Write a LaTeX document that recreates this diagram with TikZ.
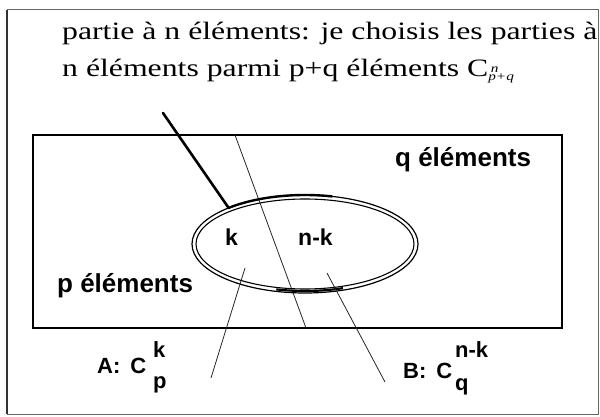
\documentclass[tikz,border=0pt]{standalone}
\usepackage{fontspec}
\setmainfont{Liberation Serif}
\newfontfamily\arialf{Liberation Sans}
\begin{document}
\begin{tikzpicture}[x=1pt,y=-1pt,
  lab/.style={font=\arialf\bfseries\fontsize{26}{28}\selectfont, inner sep=0pt, anchor=base west},
  klab/.style={font=\arialf\bfseries\fontsize{23}{25}\selectfont, inner sep=0pt, anchor=base west},
  alab/.style={font=\arialf\bfseries\fontsize{22}{24}\selectfont, inner sep=0pt, anchor=base west},
  head/.style={font=\fontsize{25}{30}\selectfont, inner sep=0pt, anchor=base west},
  thin/.style={draw=black!85, line width=0.8pt}]
\useasboundingbox (0,0) rectangle (600,417);
% outer frame
\draw[black!60, line width=1pt] (7,10) -- (598,10) -- (598,414) -- (7,414) -- cycle;
\draw[black!80, line width=1.4pt] (7,10) -- (7,414);
% header text
\node[head] (h1) at (62,40) {\scalebox{1.27}[1]{partie à n éléments: je choisis les parties à}};
\node[head] (h2) at (62,77) {\scalebox{1.27}[1]{n éléments parmi p+q éléments C\raisebox{-0.3ex}{\fontsize{12}{12}\selectfont\itshape\makebox[0pt][l]{\raisebox{1.4ex}{\,n}}p+q}}};
% inner rectangle
\draw[black, line width=1.5pt] (33,135) rectangle (562,328);
% crossing thin line
\coordinate (ta) at (235,135);
\coordinate (tb) at (306,328);
\draw[thin] (ta) -- (tb);
% ellipse double ring
\coordinate (ec) at (305,244);
\draw[black, line width=1.2pt] (ec) ellipse [x radius=113, y radius=49];
\draw[black, line width=1.1pt] (ec) ellipse [x radius=109, y radius=45];
\draw[black, line width=2.4pt] ([shift={(227:113 and 49)}]ec) arc[start angle=227, end angle=284, x radius=113, y radius=49];
\draw[black, line width=2.2pt] ([shift={(70:111 and 47)}]ec) arc[start angle=70, end angle=105, x radius=111, y radius=47];
% thick line
\coordinate (sa) at (163,113);
\coordinate (sb) at (228,207);
\draw[black, line width=2.6pt, line cap=round] (sa) -- (sb);
% labels
\node[lab] (q) at (395,167) {q éléments};
\node[lab] (p) at (57,292) {p éléments};
\node[klab] (k) at (225,245) {k};
\node[klab] (nk) at (298,245) {n-k};
% pointer lines
\coordinate (ka) at (245,268);
\coordinate (kb) at (211,378);
\coordinate (na) at (327,273);
\coordinate (nb) at (385,382);
\draw[thin] (ka) -- (kb);
\draw[thin] (na) -- (nb);
% bottom labels
\node[alab] (A) at (97,373) {A:\hspace{10pt}C};
\node[alab] (Ak) at (153,357) {k};
\node[alab] (Ap) at (153,388) {p};
\node[alab] (B) at (403,378) {B:\hspace{10pt}C};
\node[alab] (Bnk) at (455,357) {n-k};
\node[alab] (Bq) at (455,390) {q};
\end{tikzpicture}
\end{document}
